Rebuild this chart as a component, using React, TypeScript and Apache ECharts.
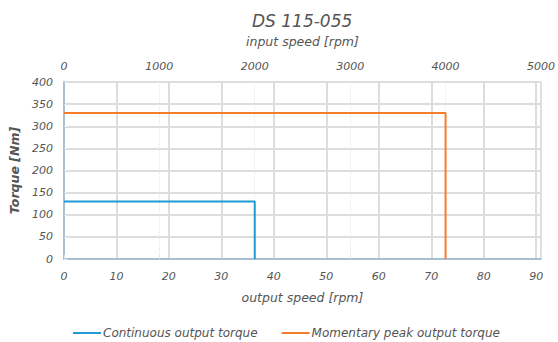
import React, { useEffect, useRef } from "react";
import * as echarts from "echarts";

const GEAR_RATIO = 55;
const INPUT_MAX = 5000;
const continuousTorque = [[0, 130], [2000 / GEAR_RATIO, 130], [2000 / GEAR_RATIO, 0]];
const peakTorque = [[0, 330], [4000 / GEAR_RATIO, 330], [4000 / GEAR_RATIO, 0]];
const seriesNames = ["Continuous output torque", "Momentary peak output torque"];
const colors = ["#1e9ad6", "#f57c2b"];

const FONT = "'DejaVu Sans', sans-serif";
const TXT = "#555";
const AXIS = "#a3bccf";

export default function App() {
  const ref = useRef<HTMLDivElement>(null);
  useEffect(() => {
    const chart = echarts.init(ref.current!, null, { renderer: "svg" });
    const label = { color: TXT, fontFamily: FONT, fontStyle: "italic", fontSize: 11 };
    chart.setOption({
      animation: false,
      title: {
        text: "DS 115-055",
        left: 247,
        top: 7,
        textStyle: { color: TXT, fontFamily: FONT, fontStyle: "italic", fontWeight: "normal", fontSize: 17 },
      },
      legend: {
        bottom: -2,
        left: 68,
        itemWidth: 28,
        itemHeight: 2,
        itemGap: 24,
        icon: "rect",
        textStyle: { ...label, fontSize: 12, padding: [0, 0, 0, -3] },
        data: seriesNames,
      },
      grid: { left: 63, right: 16, top: 82, bottom: 83 },
      xAxis: [
        {
          type: "value",
          position: "bottom",
          min: 0,
          max: INPUT_MAX / GEAR_RATIO,
          interval: 10,
          name: "output speed [rpm]",
          nameLocation: "middle",
          nameGap: 32,
          nameTextStyle: { ...label, fontSize: 12.5 },
          axisLine: { show: true, lineStyle: { color: AXIS, width: 1.5 } },
          axisTick: { show: false },
          axisLabel: { ...label, margin: 12, showMaxLabel: false },
          splitLine: { show: true, lineStyle: { color: "#dddddd", width: 2 } },
        },
        {
          type: "value",
          position: "top",
          min: 0,
          max: INPUT_MAX,
          interval: 1000,
          name: "input speed [rpm]",
          nameLocation: "middle",
          nameGap: 34,
          nameTextStyle: { ...label, fontSize: 12.5 },
          axisLine: { show: true, lineStyle: { color: AXIS, width: 1.5 } },
          axisTick: { show: true, length: 4, lineStyle: { color: "#e3e3e3" } },
          axisLabel: { ...label, margin: 10, formatter: (v: number) => String(v) },
          splitLine: { show: true, lineStyle: { color: "#e6e6e6", width: 1, type: "dotted" } },
        },
      ],
      yAxis: [
        {
          type: "value",
          min: 0,
          max: 400,
          interval: 50,
          name: "Torque [Nm]",
          nameLocation: "middle",
          nameGap: 39,
          nameTextStyle: { ...label, fontSize: 12.5, fontWeight: "bold" },
          axisLine: { show: true, lineStyle: { color: AXIS, width: 1.5 } },
          axisTick: { show: false },
          axisLabel: { ...label, margin: 11 },
          splitLine: { show: true, lineStyle: { color: "#dddddd", width: 2 } },
        },
        {
          type: "value",
          min: 0,
          max: 400,
          interval: 50,
          position: "right",
          axisLine: { show: true, lineStyle: { color: AXIS, width: 1.5 } },
          axisTick: { show: true, length: 4, lineStyle: { color: "#e3e3e3" } },
          axisLabel: { show: false },
          splitLine: { show: false },
        },
      ],
      series: [
        {
          name: seriesNames[0],
          type: "line",
          xAxisIndex: 0,
          yAxisIndex: 0,
          data: continuousTorque,
          symbol: "none",
          color: colors[0],
          lineStyle: { width: 2, color: colors[0] },
        },
        {
          name: seriesNames[1],
          type: "line",
          xAxisIndex: 0,
          yAxisIndex: 0,
          data: peakTorque,
          symbol: "none",
          color: colors[1],
          lineStyle: { width: 2, color: colors[1] },
        },
      ],
    });
    return () => chart.dispose();
  }, []);
  return <div ref={ref} style={{ width: 558, height: 342, position: "absolute", left: 0, top: 0 }} />;
}
